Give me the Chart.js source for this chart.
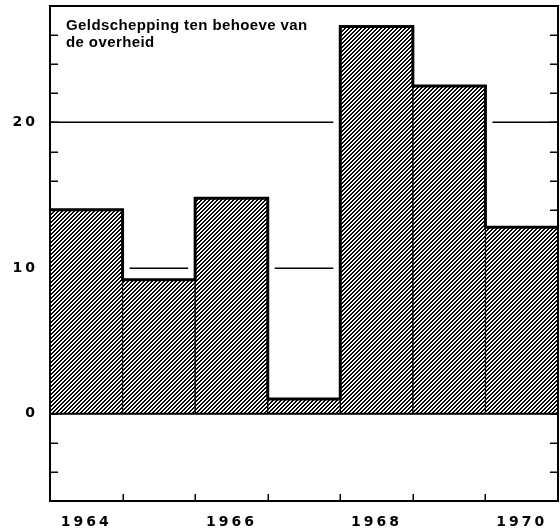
<!DOCTYPE html>
<html>
<head>
<meta charset="utf-8">
<script src="https://cdn.jsdelivr.net/npm/chart.js@4"></script>
<style>
  html, body { margin: 0; padding: 0; background: #fff; }
  canvas { display: block; }
</style>
</head>
<body>
<canvas id="c" width="560" height="529"></canvas>
<script>
// Money creation on behalf of the government, per year
const years = ['1964', '1965', '1966', '1967', '1968', '1969', '1970'];
const yearLabels = ['1964', '', '1966', '', '1968', '', '1970'];
const creation = [14.0, 9.2, 14.8, 1.0, 26.6, 22.5, 12.8];
const gridValues = [10, 20];
const axisLabels = [0, 10, 20];
const titleLines = ['Geldschepping ten behoeve van', 'de overheid'];

const canvas = document.getElementById('c');
const ctx = canvas.getContext('2d');

// diagonal "////" hatch, 2px black / 2px white
function makeHatch(target) {
  const tile = document.createElement('canvas');
  tile.width = 4; tile.height = 4;
  const g = tile.getContext('2d');
  const img = g.createImageData(4, 4);
  for (let yy = 0; yy < 4; yy++) {
    for (let xx = 0; xx < 4; xx++) {
      const i = (yy * 4 + xx) * 4;
      const v = ((xx + yy) % 4) < 2 ? 0 : 255;
      img.data[i] = img.data[i + 1] = img.data[i + 2] = v;
      img.data[i + 3] = 255;
    }
  }
  g.putImageData(img, 0, 0);
  return target.createPattern(tile, 'repeat');
}

const frame = {
  id: 'frame',
  beforeDraw(chart) {
    chart.ctx.letterSpacing = '3px';
  },
  beforeDatasetsDraw(chart) {
    const { ctx, chartArea: a, scales: { y } } = chart;
    const bars = chart.getDatasetMeta(0).data;
    ctx.save();
    ctx.strokeStyle = '#000';
    // inward tick marks on both vertical sides
    ctx.lineWidth = 1.5;
    y.ticks.forEach(t => {
      if (t.value <= y.min || t.value >= y.max) return;
      const py = Math.round(y.getPixelForValue(t.value)) + 0.25;
      ctx.beginPath();
      ctx.moveTo(a.left, py); ctx.lineTo(a.left + 8, py);
      ctx.moveTo(a.right - 8, py); ctx.lineTo(a.right, py);
      ctx.stroke();
    });
    // reference lines, kept clear of the bar sides
    gridValues.forEach(v => {
      const py = Math.round(y.getPixelForValue(v)) + 0.25;
      let segs = [[a.left, a.right]];
      bars.forEach((b, i) => {
        if (creation[i] < v) return;
        const l = b.x - b.width / 2 - 7, r = b.x + b.width / 2 + 7;
        segs = segs.flatMap(([s, e]) => {
          const out = [];
          if (l > s) out.push([s, Math.min(e, l)]);
          if (r < e) out.push([Math.max(s, r), e]);
          return out.filter(([p, q]) => q > p);
        });
      });
      ctx.lineWidth = 1.5;
      segs.forEach(([s, e]) => {
        ctx.beginPath(); ctx.moveTo(s, py); ctx.lineTo(e, py); ctx.stroke();
      });
    });
    ctx.restore();
  },
  afterDatasetsDraw(chart) {
    const { ctx, chartArea: a, scales: { y } } = chart;
    const bars = chart.getDatasetMeta(0).data;
    ctx.save();
    ctx.strokeStyle = '#000';
    // heavy stepped outline along the bar tops
    ctx.lineWidth = 3;
    ctx.lineJoin = 'miter';
    ctx.beginPath();
    bars.forEach((b, i) => {
      const l = b.x - b.width / 2, r = b.x + b.width / 2;
      if (i === 0) ctx.moveTo(l, b.y); else ctx.lineTo(l, b.y);
      ctx.lineTo(r, b.y);
    });
    ctx.stroke();
    // zero line
    const zy = y.getPixelForValue(0);
    ctx.lineWidth = 2;
    ctx.beginPath(); ctx.moveTo(a.left, zy); ctx.lineTo(a.right, zy); ctx.stroke();
    // year boundary ticks on the bottom edge
    ctx.lineWidth = 1.5;
    for (let i = 1; i < bars.length; i++) {
      const bx = Math.round((bars[i - 1].x + bars[i].x) / 2) + 0.25;
      ctx.beginPath(); ctx.moveTo(bx, a.bottom); ctx.lineTo(bx, a.bottom - 7); ctx.stroke();
    }
    // frame
    ctx.lineWidth = 2;
    ctx.strokeRect(a.left, a.top, a.right - a.left, a.bottom - a.top);
    ctx.restore();
  },
  afterDraw(chart) {
    const { ctx, chartArea: a } = chart;
    ctx.save();
    ctx.letterSpacing = '0.4px';
    ctx.fillStyle = '#000';
    ctx.font = 'bold 15px "Liberation Sans"';
    ctx.textBaseline = 'alphabetic';
    ctx.textAlign = 'left';
    titleLines.forEach((t, i) => ctx.fillText(t, a.left + 16, 30 + i * 17));
    ctx.restore();
  }
};

const tickFont = { family: 'DejaVu Sans', weight: 'bold', size: 14 };

new Chart(ctx, {
  type: 'bar',
  data: {
    labels: years,
    datasets: [{
      data: creation,
      backgroundColor: makeHatch(ctx),
      borderColor: '#000',
      borderWidth: 1,
      borderSkipped: false,
      categoryPercentage: 1,
      barPercentage: 1
    }]
  },
  options: {
    responsive: false,
    animation: false,
    devicePixelRatio: 1,
    layout: { padding: { top: 6, right: 2, left: 0, bottom: 0 } },
    plugins: {
      legend: { display: false },
      tooltip: { enabled: false },
      title: { display: false }
    },
    scales: {
      x: {
        grid: { display: false, drawTicks: false },
        border: { display: false },
        ticks: {
          autoSkip: false, maxRotation: 0, padding: 13, color: '#000', font: tickFont,
          callback: (v, i) => yearLabels[i]
        },
        afterFit: s => { s.height = 28; s.paddingLeft = 0; s.paddingRight = 0; }
      },
      y: {
        min: -6, max: 28,
        grid: { display: false, drawTicks: false },
        border: { display: false },
        ticks: {
          stepSize: 2, autoSkip: false, padding: 12, color: '#000', font: tickFont,
          callback: v => axisLabels.includes(v) ? String(v) : ''
        },
        afterFit: s => { s.width = 50; s.paddingTop = 0; s.paddingBottom = 0; }
      }
    }
  },
  plugins: [frame]
});
</script>
</body>
</html>
